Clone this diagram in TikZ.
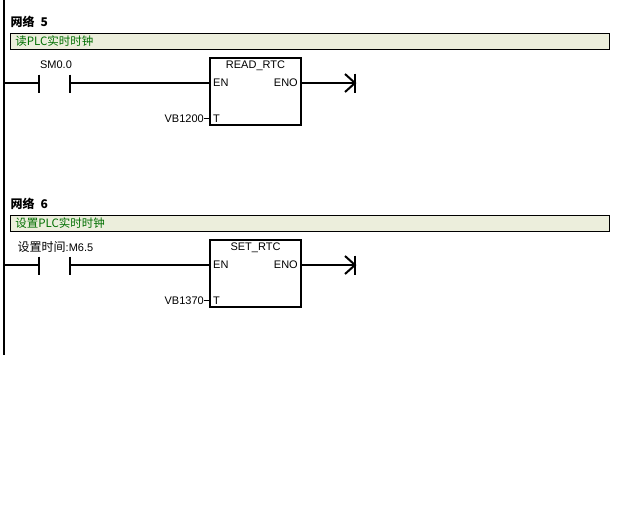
\documentclass[tikz,border=0pt]{standalone}
\usepackage{fontspec}
\setmainfont{Liberation Sans}
\newfontfamily\cjk{Noto Sans CJK SC}
\usetikzlibrary{arrows.meta, positioning, calc}
\definecolor{barfill}{RGB}{236,238,220}
\definecolor{bartext}{RGB}{0,110,0}
\tikzset{
  wire/.style={line width=2pt, black},
  pin/.style={line width=1.5pt, black},
  netlabel/.style={font=\cjk\bfseries\fontsize{12}{14}\selectfont, anchor=west, inner sep=0pt},
  commentbar/.style={draw=black, line width=0.8pt, fill=barfill, minimum width=599pt, minimum height=16pt,
    anchor=north west, inner sep=0pt, text=bartext, font=\cjk\fontsize{11.5}{14}\selectfont, align=left,
    text width=589pt},
  blockbox/.style={draw=black, line width=2pt, minimum width=91pt, minimum height=67pt, anchor=north west, inner sep=0pt},
  smalltext/.style={font=\fontsize{11}{13}\selectfont, inner sep=0pt},
}
\begin{document}
\begin{tikzpicture}[x=1pt, y=-1pt]
  \useasboundingbox (0,0) rectangle (642,525);
  % Power rail
  \coordinate (railtop) at (4,0);
  \coordinate (railend) at (4,355);
  \draw[line width=2.5pt] (railtop) -- (railend);

  % Network 5
  \node[netlabel] (net5) at (10.5,21.5) {网络\hspace{6pt}5};
  \node[commentbar] (bar5) at (10,33) {读PLC实时时钟};
  \node[blockbox] (read) at (209,56.5) {};
  \node[smalltext] (readname) at (255.5,65.5) {READ\_RTC};
  \node[smalltext, anchor=west] (readen) at (213,83) {EN};
  \node[smalltext, anchor=east] (readeno) at (298,83) {ENO};
  \node[smalltext, anchor=west] (readt) at (213,118.5) {T};
  \node[smalltext] (sm) at (56,64.5) {SM0.0};
  \node[smalltext, anchor=east] (vb1200) at (204,118.5) {VB1200};
  \coordinate (rung5) at (4,83);
  \coordinate (c5a) at (39,83);
  \coordinate (c5b) at (70,83);
  \coordinate (end5) at (355,83);
  \draw[wire] (rung5) -- (c5a);
  \draw[wire] (c5a |- 0,74.5) -- (c5a |- 0,92.5);
  \draw[wire] (c5b |- 0,74.5) -- (c5b |- 0,92.5);
  \draw[wire] (c5b) -- (read.west |- c5b);
  \draw[wire] (read.east |- end5) -- (end5);
  \draw[wire] ($(end5)+(-10,-9)$) -- (end5) -- ($(end5)+(-10,9)$);
  \draw[wire] ($(end5)+(0,-9.5)$) -- ($(end5)+(0,9.5)$);
  \draw[pin] (vb1200.east) -- (read.west |- vb1200);

  % Network 6
  \node[netlabel] (net6) at (10.5,203.5) {网络\hspace{6pt}6};
  \node[commentbar] (bar6) at (10,215) {设置PLC实时时钟};
  \node[blockbox] (set) at (209,238.5) {};
  \node[smalltext] (setname) at (255.5,247.5) {SET\_RTC};
  \node[smalltext, anchor=west] (seten) at (213,265) {EN};
  \node[smalltext, anchor=east] (seteno) at (298,265) {ENO};
  \node[smalltext, anchor=west] (sett) at (213,300.5) {T};
  \node[smalltext, anchor=west] (timer) at (17.5,246.5) {{\cjk\fontsize{12}{14}\selectfont 设置时间}:M6.5};
  \node[smalltext, anchor=east] (vb1370) at (204,300.5) {VB1370};
  \coordinate (rung6) at (4,265);
  \coordinate (c6a) at (39,265);
  \coordinate (c6b) at (70,265);
  \coordinate (end6) at (355,265);
  \draw[wire] (rung6) -- (c6a);
  \draw[wire] (c6a |- 0,256.5) -- (c6a |- 0,274.5);
  \draw[wire] (c6b |- 0,256.5) -- (c6b |- 0,274.5);
  \draw[wire] (c6b) -- (set.west |- c6b);
  \draw[wire] (set.east |- end6) -- (end6);
  \draw[wire] ($(end6)+(-10,-9)$) -- (end6) -- ($(end6)+(-10,9)$);
  \draw[wire] ($(end6)+(0,-9.5)$) -- ($(end6)+(0,9.5)$);
  \draw[pin] (vb1370.east) -- (set.west |- vb1370);
\end{tikzpicture}
\end{document}
